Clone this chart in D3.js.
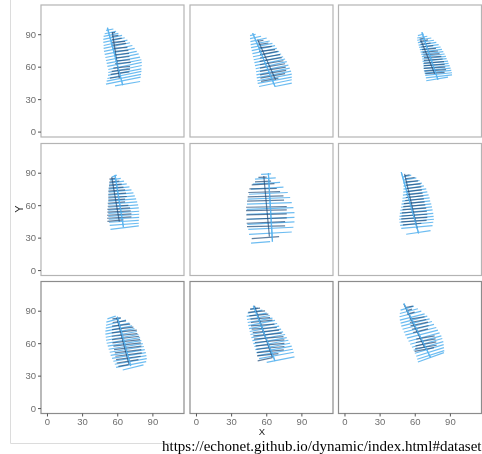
<!DOCTYPE html>
<html>
<head>
<meta charset="utf-8">
<script src="https://cdn.jsdelivr.net/npm/d3@7"></script>
<style>
  html, body { margin: 0; padding: 0; background: #fff; overflow: hidden; }
  svg { display: block; }
</style>
</head>
<body>
<svg id="chart" width="482" height="454"></svg>
<script>
// each trace: first row is the long axis, the rest are the disc chords [x1, y1, x2, y2]
const ed1 = [[51.6,96,64.7,42.9],[50.4,93.5,56.7,94.8],[49.3,90.4,59,92.6],[48.4,88,61,90.7],[48.1,85.2,64.1,88.9],[48.1,82.4,66.4,86.7],[48.4,79.6,68.7,84.6],[48.4,76.9,70.9,82.1],[48.7,74.1,72.9,79.6],[49.3,71.3,74.9,76.9],[49.9,68.5,76.6,74.1],[50.4,65.7,78.3,71.9],[51,63,79.5,68.8],[51.6,60.2,80.6,66.4],[52.4,57.4,80.9,63.9],[52.4,54.6,80.9,61.1],[52.1,51.9,80.6,58],[51.6,49.1,80.6,55.6],[51,46.6,80.3,52.8],[50.4,43.8,80,50.3],[58.1,42.3,79.5,46.3]];
const es1 = [[55.8,92,61.8,49.4],[55.3,91,58.1,91.7],[55.3,88,61,88.9],[55.3,84.9,63.8,86.4],[55.3,82.4,66.7,83.3],[55.3,79.6,67.5,81.5],[56.7,76.9,68.7,77.8],[57.8,74.1,69.5,75],[58.1,71,70.1,72.2],[58.4,68.2,70.4,69.4],[58.7,65.4,70.9,66.4],[58.1,62.7,71.5,63.9],[56.7,58.6,70.9,60.2],[55.3,55.6,70.9,57.7],[54.4,52.8,70.4,55.2],[53.8,49.4,63,50.9]];
const ed2 = [[48.4,91,67.5,41.7],[46.2,88.7,51,90],[46.2,85.9,55.6,88.1],[46.5,83.1,60.4,86.5],[46.7,80.3,63,83.7],[47,77.6,65.3,81.6],[47.6,74.8,67.5,79.4],[48.2,72,69,76.9],[48.7,69.2,71,74.2],[49.3,66.4,72.7,71.7],[49.9,63.7,74.4,69.2],[50.4,60.9,76.1,67.1],[51,58.1,77.5,64.6],[51.3,55.3,78.9,61.5],[51.6,52.5,80.1,58.7],[51.9,49.7,81.2,55.9],[52.4,47,81.8,53.1],[52.7,44.5,81.8,50.4],[53.9,41.7,81.8,47.9],[67.5,41.7,81.8,44.8]];
const es2 = [[52.7,85,68,48],[52.7,83.4,57.6,84.4],[53.3,80.3,61.8,81.9],[53.9,77.3,64.7,78.8],[53.9,74.2,67.5,75.7],[54.7,71.1,69.8,74.2],[54.7,68,71.8,71.1],[54.4,64.9,73.2,68.3],[54.7,61.8,74.7,65.5],[54.7,58.7,76.1,62.7],[54.7,55.6,76.7,59.6],[54.7,52.5,77,56.5],[55,49.4,76.1,53.5],[55.6,46.4,70.4,49.4]];
const ed3 = [[66.1,91.8,79.8,47.9],[62.7,88.7,67.8,90.2],[62.1,86.5,70.7,88.1],[62.1,84.4,74.1,86.5],[62.7,82.2,76.4,84.4],[63.3,80,78.4,82.5],[63.8,77.9,80.4,80.3],[64.4,75.7,82.1,78.2],[65,73.5,83.2,76],[65.6,71.4,84.4,73.9],[66.1,69.2,85.5,71.7],[66.4,67.1,86.6,69.5],[66.7,64.9,87.2,67.4],[67,62.7,88.4,65.2],[67.3,60.6,88.9,63],[67.5,58.4,89.8,60.9],[67.8,56.2,90.6,58.7],[68.4,54.1,91.2,56.5],[69,51.9,91.8,54.4],[69.5,49.7,91.8,52.5],[69.8,47,88.4,50.4]];
const es3 = [[65,85,77,53.5],[64.1,85.6,68.4,86.5],[64.4,83.1,71.3,84.7],[65,80.6,73.5,81.9],[65.6,78.2,75.8,79.4],[66.1,75.7,78.1,76.9],[66.7,73.2,79.8,74.5],[67.3,70.8,81.2,72],[67.8,68.3,82.7,69.5],[67.8,65.8,83.8,67.1],[67.8,63.3,85,64.6],[67.8,60.9,85.5,62.1],[67.8,58.4,86.1,59.6],[68.4,55.9,86.6,57.2],[69,53.5,85.5,54.7]];
const ed4 = [[58.1,88,65.3,39.6],[55.3,85.9,59.6,87.8],[53.9,83.1,63,84.7],[53.3,80.3,65.8,82.2],[53,77.6,68.1,79.7],[52.7,74.8,70.4,76.9],[52.7,72,72.1,74.2],[52.4,69.2,73.8,71.4],[52.4,66.4,75,68.6],[52.4,63.7,76.1,65.8],[52.4,60.9,77,63],[52.4,58.1,77.8,60.3],[52.4,55.3,78.4,57.5],[52.4,52.5,78.7,54.4],[52.4,49.7,78.7,51.6],[52.7,47,78.7,48.8],[53,44.2,78.4,46],[53.6,41.4,78.4,43.3],[54.2,37.7,78.4,40.8]];
const es4 = [[55.3,85.9,61.8,44.8],[53.3,84,58.1,84.7],[53.3,81.3,61.8,82.2],[53,78.5,63.8,79.4],[52.7,75.7,65.3,76.6],[52.4,72.9,66.7,74.2],[52.4,70.1,67.5,71.1],[52.4,67.4,68.1,68],[52.4,64.6,66.7,65.5],[51.9,61.8,66.7,63],[51.9,59,69.5,59.9],[51.6,56.2,71,57.5],[51.6,53.5,71.5,54.7],[51.3,50.7,72.1,51.9],[51.3,47.9,72.1,49.1],[51.6,45.1,65.3,46.4]];
const ed5 = [[61.8,89.6,65.3,26.3],[55.6,88.4,64.1,89],[50.4,84,68.1,85.3],[48.5,79.4,71.8,81],[47,74.8,74.7,76.6],[45.3,70.1,78.4,71.7],[44.2,65.5,80.4,67.1],[43.6,60.9,81.8,62.4],[43.3,56.2,83.2,57.8],[43.3,51.6,84.1,53.1],[43.6,47,84.1,48.8],[43.9,42.3,84.1,44.5],[44.7,37.7,83.2,39.6],[45.3,33.1,81.8,35.2],[47,25,63.3,26.3]];
const es5 = [[57.9,86.9,62.7,30.9],[53.3,85.6,60.4,85.9],[50.4,81.6,64.1,82.2],[47.6,78.8,67,80],[45.6,75.1,69,75.4],[44.7,71.7,71.8,72.6],[44.2,67.7,74.7,68.6],[43.6,63.7,75.2,64.6],[42.8,58.1,77.5,58.7],[42.8,55,77.5,55.6],[43,51,77.5,51.9],[43,47,77.5,48.2],[43.3,43.3,76.1,44.8],[43.6,40.2,76.1,40.8],[47.6,29,71,30.9]];
const ed6 = [[48.5,90.5,63.3,34],[49.3,85.9,57,87.8],[49.9,83.1,61.3,85.3],[50.2,80.3,64.1,82.8],[50.4,77.6,66.1,80.3],[50.4,74.8,67.8,77.9],[50.2,72,69.8,75.1],[49.9,69.2,70.7,72.3],[49.6,66.4,71.8,69.5],[49.3,63.7,72.7,66.7],[48.7,60.9,73.2,64],[48.2,58.1,74.1,61.2],[47.6,55.3,74.7,58.4],[47.3,52.5,75.2,55.6],[47,49.7,75.8,52.5],[46.7,47,76.1,49.7],[47,44.2,76.4,47],[47.6,41.4,75.8,44.2],[48.5,38.6,75.2,41.1],[52.7,33.1,73.5,36.5]];
const es6 = [[51.3,88.9,62.1,38.6],[51.3,87.1,55.6,88.1],[51.9,84.4,59.9,85.6],[52.2,81.6,62.7,82.5],[52.7,78.5,65,79.7],[53,75.4,65.6,76.9],[53,72.6,66.1,74.2],[53,69.8,66.7,71.1],[52.4,67.1,67.3,68.6],[51.9,64.3,67.8,65.8],[50.7,61.5,68.4,63],[50.2,58.7,69,60.3],[49.6,55.9,69.8,57.2],[49,52.8,70.4,54.4],[48.7,50,70.7,51.6],[48.5,47.3,70.7,48.8],[48.5,44.5,70.1,46],[49.9,41.7,65.6,43.3]];
const ed7 = [[60.1,84.4,71.5,38.9],[51.6,82.5,58.7,85],[50.7,79.4,63,83.1],[50.4,76.6,67.5,81.3],[50.2,73.9,70.4,78.5],[49.9,71.1,72.7,76],[49.9,68.3,74.7,73.5],[50.2,65.5,76.7,70.8],[50.4,62.7,78.1,68],[51,59.9,79.5,65.2],[51.9,57.2,80.6,62.4],[52.7,54.4,81.8,59.6],[53.6,51.6,82.7,56.9],[54.4,48.8,83.5,54.1],[55.6,46,84.4,51.3],[56.7,43.3,84.9,48.5],[57.9,40.5,85.2,45.7],[59,37.7,84.7,43],[64.7,35.2,82.4,39.9]];
const es7 = [[59.6,83.7,70.1,39.9],[55.9,82.5,63,83.4],[56.1,79.1,67.5,80.6],[55.6,75.7,71,77.6],[55.6,72.6,73.8,74.8],[55.3,69.5,76.7,72],[55.3,66.4,77.2,68.9],[55.6,63.3,78.7,66.4],[55.9,60.3,79.5,63.3],[56.7,57.2,80.1,60.3],[57.3,54.1,80.6,57.2],[57.9,51,80.6,54.1],[58.4,47.9,80.9,51],[59,44.8,80.1,47.9],[59.6,41.7,78.1,44.8],[61,38.6,69.5,40.2]];
const ed8 = [[49,94.6,67.5,43.6],[46.5,91.2,52.7,92.7],[44.2,87.8,56.7,90.5],[43.3,84.7,60.4,87.8],[43.6,81.9,63,85.6],[44.2,79.1,65.3,83.1],[44.7,76.3,67.5,81],[45.3,73.5,69.3,78.2],[45.9,70.8,71,75.7],[46.5,68,72.7,72.9],[47.3,65.2,74.4,70.5],[48.2,62.4,76.1,68],[49,59.6,77.5,65.2],[49.9,56.9,78.9,62.7],[50.7,54.1,80.4,59.9],[51.6,51.3,81.8,57.2],[52.7,48.5,82.7,54.4],[53.9,45.7,83.5,51.6],[60.4,42.3,84.1,47.3]];
const es8 = [[49.9,94.6,65.3,46.7],[46.2,91.5,54.7,92.4],[44.7,88.4,59,89.9],[45.6,85.3,61.8,86.8],[46.5,82.2,63.3,83.7],[47,79.1,65.3,81.3],[47,76,67,77.6],[47.6,72.9,69,74.5],[48.5,69.8,71,72],[49,66.7,73.2,69.2],[49.6,63.7,74.7,66.1],[50.4,60.6,75.5,63],[51,57.5,75.5,59.9],[51.6,54.4,75.5,56.9],[52.2,51.3,75,53.8],[52.2,48.2,70.4,50.4],[52.7,43.6,65.3,46.7]];
const ed9 = [[50.7,96.7,73.5,46.7],[47.9,90.5,59.3,94.2],[47.3,87.4,62.7,91.8],[47,84.4,65.6,89.6],[47.3,81.3,68.4,87.1],[47.9,78.5,70.7,85],[48.5,75.7,72.7,82.5],[49.6,72.9,74.7,80],[50.7,70.1,76.4,77.3],[51.9,67.4,78.4,74.5],[53.3,64.6,79.8,72],[54.7,61.8,81.2,69.5],[56.1,59,82.7,66.7],[57.6,56.2,83.5,64.3],[59,53.5,84.4,61.5],[60.1,50.7,84.7,58.7],[61.3,47.9,84.9,55.9],[62.1,45.1,85.2,53.1],[62.7,42.6,84.9,51.3]];
const es9 = [[50.7,96.1,68.4,55.9],[51.9,93,58.4,94.2],[53,89.9,57.6,91.5],[53.6,86.8,59.9,88.7],[55.6,82.2,68.4,84.4],[55.9,79.1,69.8,81.9],[56.4,76,71.3,79.4],[57.6,72.9,71.8,76.3],[58.7,69.8,71.3,73.2],[61.3,63.7,77,66.7],[61,60.6,77.8,64],[60.7,57.5,78.4,61.2],[60.4,55,78.7,58.1],[59.9,52.5,76.4,55.9]];

const edTraces = [ed1, ed2, ed3, ed4, ed5, ed6, ed7, ed8, ed9];
const esTraces = [es1, es2, es3, es4, es5, es6, es7, es8, es9];
const xTicks = [0, 30, 60, 90];
const yTicks = [0, 30, 60, 90];

const colLeft = [41, 190, 338.5];
const rowTop = [5, 143.5, 281.5];
const rowBorder = ["#b4b4b4", "#b4b4b4", "#8c8c8c"];
const panelW = 143, panelH = 132;

const svg = d3.select("#chart");

// the reference is a soft screenshot, everything but the caption is slightly blurred
svg.append("defs").append("filter")
  .attr("id", "soft")
  .append("feGaussianBlur")
  .attr("stdDeviation", 0.35);

const page = svg.append("g").attr("filter", "url(#soft)");

// page frame behind the chart
page.append("path")
  .attr("d", "M10.5,0V443.5H170")
  .attr("fill", "none")
  .attr("stroke", "#dcdcdc");

const x = d3.scaleLinear().domain([-5.1, 117]).range([0, panelW]);
const y = d3.scaleLinear().domain([-5, 117]).range([panelH, 0]);

function drawChords(g, rows, color, opacity, width) {
  g.append("g")
    .selectAll("line")
    .data(rows)
    .join("line")
    .attr("x1", d => x(d[0]))
    .attr("y1", d => y(d[1]))
    .attr("x2", d => x(d[2]))
    .attr("y2", d => y(d[3]))
    .attr("stroke", color)
    .attr("stroke-opacity", opacity)
    .attr("stroke-width", width);
}

edTraces.forEach((ed, i) => {
  const col = i % 3, row = Math.floor(i / 3);
  const g = page.append("g").attr("transform", `translate(${colLeft[col]},${rowTop[row]})`);

  drawChords(g, ed, "#5cb5f0", 0.9, 1.2);
  drawChords(g, esTraces[i], "#1f4a78", 0.7, 1.2);
  // light long axis stays visible over the dark chords
  drawChords(g, ed.slice(0, 1), "#5cb5f0", 0.9, 1.2);

  g.append("rect")
    .attr("width", panelW)
    .attr("height", panelH)
    .attr("fill", "none")
    .attr("stroke", rowBorder[row])
    .attr("stroke-width", 1.2);

  if (col === 0) {
    const a = g.append("g").call(d3.axisLeft(y).tickValues(yTicks).tickSize(3).tickPadding(2));
    a.select(".domain").remove();
    a.selectAll("line").attr("stroke", "#555");
    a.selectAll("text").attr("fill", "#6e6e6e").attr("font-size", 9.5).attr("font-family", "Liberation Sans, sans-serif");
  }
  if (row === 2) {
    const a = g.append("g").attr("transform", `translate(0,${panelH})`)
      .call(d3.axisBottom(x).tickValues(xTicks).tickSize(3).tickPadding(2));
    a.select(".domain").remove();
    a.selectAll("line").attr("stroke", "#555");
    a.selectAll("text").attr("fill", "#6e6e6e").attr("font-size", 9.5).attr("font-family", "Liberation Sans, sans-serif");
  }
});

// axis titles
page.append("text")
  .attr("x", 262).attr("y", 435)
  .attr("text-anchor", "middle")
  .attr("font-family", "Liberation Sans, sans-serif")
  .attr("font-size", 9.5)
  .attr("fill", "#222")
  .text("X");
page.append("text")
  .attr("transform", "translate(23,209) rotate(-90)")
  .attr("text-anchor", "middle")
  .attr("font-family", "Liberation Sans, sans-serif")
  .attr("font-size", 11)
  .attr("fill", "#222")
  .text("Y");

// url caption pasted over the page
svg.append("text")
  .attr("x", 162).attr("y", 450.5)
  .attr("font-family", "Liberation Serif, serif")
  .attr("font-size", 15)
  .attr("fill", "#000")
  .text("https://echonet.github.io/dynamic/index.html#dataset");
</script>
</body>
</html>
